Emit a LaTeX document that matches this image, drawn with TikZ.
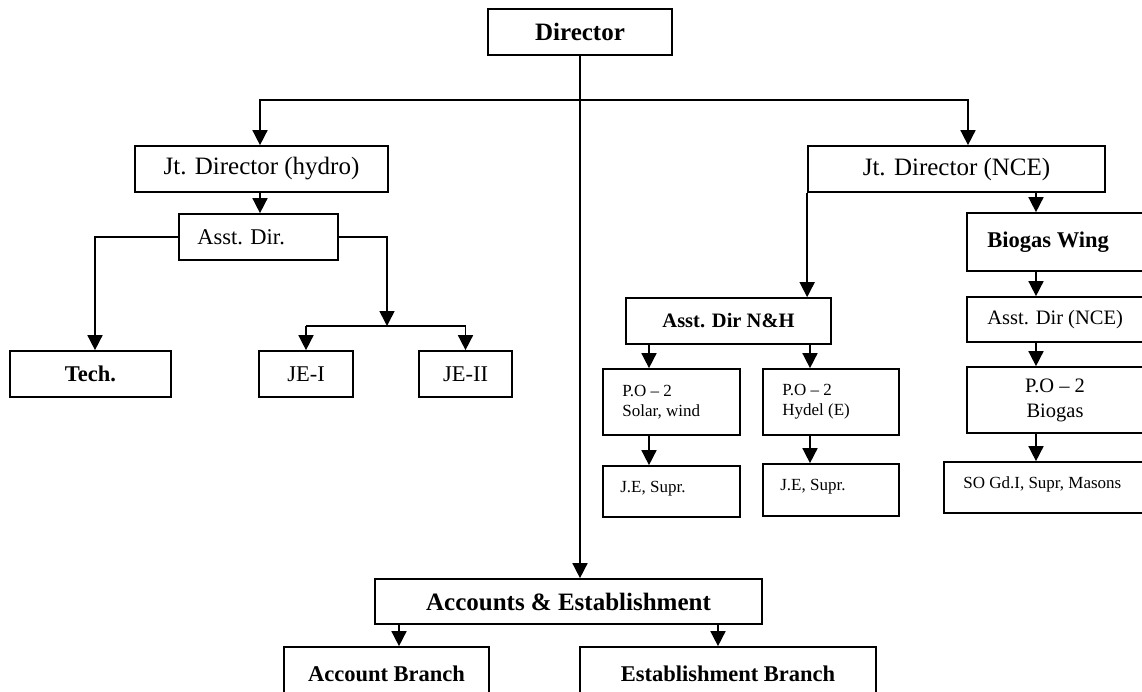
\documentclass[tikz,border=0pt]{standalone}
\usepackage{fontspec}
\setmainfont{Liberation Serif}
\usetikzlibrary{arrows.meta}

\begin{document}
\begin{tikzpicture}[x=1pt,y=-1pt,
    unit/.style={draw,rectangle,line width=1.7pt,inner sep=0pt},
    link/.style={line width=1.6pt,-{Triangle[width=15pt,length=15pt]}},
    bar/.style={line width=1.6pt},
    fontL/.style={font=\fontsize{25}{30}\selectfont},
    fontM/.style={font=\fontsize{22.5}{27}\selectfont},
    fontS/.style={font=\fontsize{20.5}{25}\selectfont},
    fontXS/.style={font=\fontsize{17}{20}\selectfont},
    lbl/.style={inner sep=0pt,anchor=west,align=left}]
  \useasboundingbox (0,0) rectangle (1142,691);

  % Director
  \node[unit,minimum width=184pt,minimum height=46pt,fontL] (dir) at (580,32) {\textbf{Director}};
  \coordinate (split) at (580,100);

  % Hydro wing
  \node[unit,minimum width=253pt,minimum height=46pt,fontL] (jdh) at (261.5,169) {Jt. Director (hydro)};
  \node[unit,minimum width=159pt,minimum height=46pt] (adh) at (258.5,237) {};
  \node[lbl,fontM] at ([xshift=19pt]adh.west) {Asst. Dir.};
  \node[unit,minimum width=161pt,minimum height=46pt,fontM] (tech) at (90.5,374) {\textbf{Tech.}};
  \node[unit,minimum width=94pt,minimum height=46pt,fontM] (je1) at (306,374) {JE-I};
  \node[unit,minimum width=93pt,minimum height=46pt,fontM] (je2) at (465.5,374) {JE-II};
  \coordinate (fork) at (387,326);

  % NCE wing
  \node[unit,minimum width=297pt,minimum height=46pt,fontL] (jdn) at (956.5,169) {Jt. Director (NCE)};
  \node[unit,minimum width=205pt,minimum height=46pt,fontS] (anh) at (728.5,321) {\textbf{Asst. Dir N\&H}};
  \node[unit,minimum width=137pt,minimum height=66pt] (pos) at (671.5,402) {};
  \node[lbl,fontXS] at ([xshift=20pt]pos.west) {P.O – 2\\Solar, wind};
  \node[unit,minimum width=136pt,minimum height=66pt] (poh) at (831,402) {};
  \node[lbl,fontXS] at ([xshift=20pt]poh.west) {P.O – 2\\Hydel (E)};
  \node[unit,minimum width=137pt,minimum height=51pt] (jes1) at (671.5,491.5) {};
  \node[lbl,fontXS] at ([xshift=18pt,yshift=3pt]jes1.west) {J.E, Supr.};
  \node[unit,minimum width=136pt,minimum height=52pt] (jes2) at (831,490) {};
  \node[lbl,fontXS] at ([xshift=18pt,yshift=3pt]jes2.west) {J.E, Supr.};
  \coordinate (solcol) at (649,0);
  \coordinate (hydcol) at (810,0);

  % Biogas wing
  \node[unit,minimum width=176pt,minimum height=58pt] (bio) at (1055,242) {};
  \node[lbl,fontM] at ([xshift=21pt]bio.west) {\textbf{Biogas Wing}};
  \node[unit,minimum width=176pt,minimum height=45pt] (adn) at (1055,319.5) {};
  \node[lbl,fontS] at ([xshift=21pt]adn.west) {Asst. Dir (NCE)};
  \node[unit,minimum width=176pt,minimum height=66pt,fontS,align=center] (pob) at (1055,400) {P.O – 2\\Biogas};
  \node[unit,minimum width=199pt,minimum height=51pt] (so) at (1043.5,487.5) {};
  \node[lbl,fontXS] at ([xshift=20pt,yshift=3pt]so.west) {SO Gd.I, Supr, Masons};
  \coordinate (biocol) at (1036,0);

  % Accounts
  \node[unit,minimum width=387pt,minimum height=45pt,fontL] (acc) at (568.5,601.5) {\textbf{Accounts \& Establishment}};
  \node[unit,minimum width=205pt,minimum height=53pt,fontM] (accb) at (386.5,673.5) {\textbf{Account Branch}};
  \node[unit,minimum width=296pt,minimum height=53pt,fontM] (estb) at (728,673.5) {\textbf{Establishment Branch}};
  \coordinate (acccol) at (399,0);
  \coordinate (estcol) at (718,0);

  % Connectors
  \draw[link] (dir.south) -- (dir.south |- acc.north);
  \draw[link] (split) -| ([xshift=-1.5pt]jdh.north);
  \draw[link] (split) -| ([xshift=11.5pt]jdn.north);
  \draw[link] ([xshift=-1.5pt]jdh.south) -- ([xshift=1.5pt]adh.north);
  \draw[link] (adh.west) -| ([xshift=4.5pt]tech.north);
  \draw[link] (adh.east) -| (fork);
  \draw[bar] (je1.north |- fork) -- (je2.north |- fork);
  \draw[link] (je1.north |- fork) -- (je1.north);
  \draw[link] (je2.north |- fork) -- (je2.north);
  \draw[link] (jdn.south west) -- (jdn.south west |- anh.north);
  \foreach \a/\b in {jdn/bio,bio/adn,adn/pob,pob/so}
    \draw[link] (biocol |- \a.south) -- (biocol |- \b.north);
  \draw[link] (solcol |- anh.south) -- (solcol |- pos.north);
  \draw[link] (solcol |- pos.south) -- (solcol |- jes1.north);
  \draw[link] (hydcol |- anh.south) -- (hydcol |- poh.north);
  \draw[link] (hydcol |- poh.south) -- (hydcol |- jes2.north);
  \draw[link] (acccol |- acc.south) -- (acccol |- accb.north);
  \draw[link] (estcol |- acc.south) -- (estcol |- estb.north);
\end{tikzpicture}
\end{document}
